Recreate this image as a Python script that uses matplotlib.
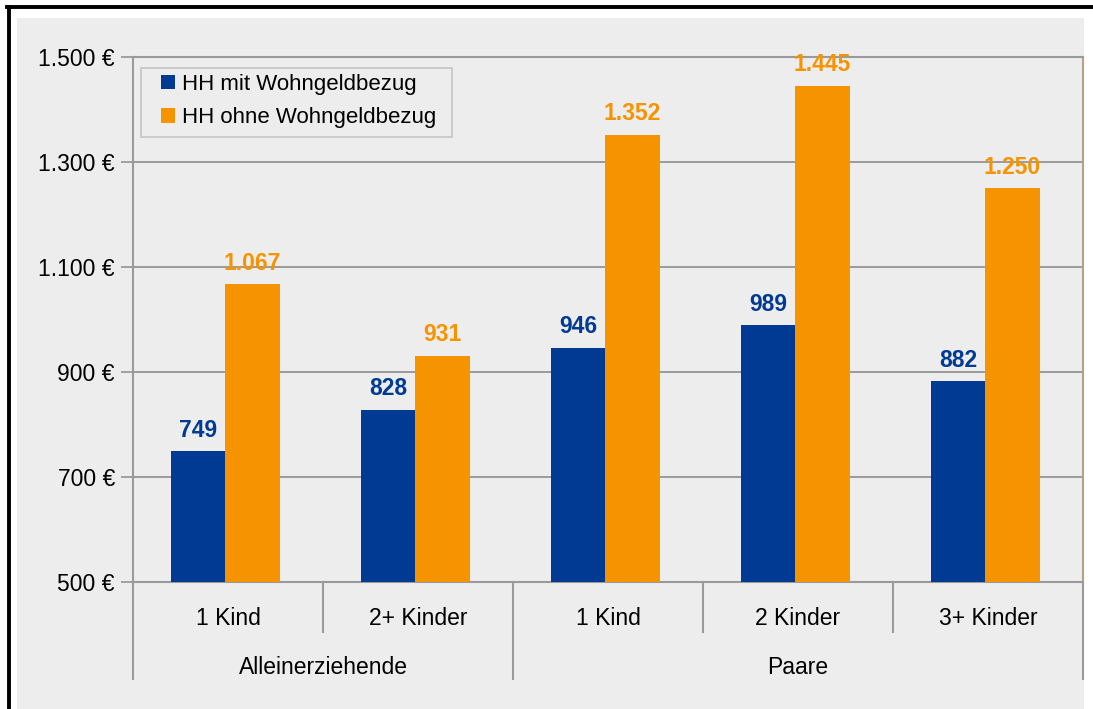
import matplotlib
matplotlib.use("Agg")
from matplotlib import pyplot as plt
from matplotlib.patches import Rectangle
from matplotlib.lines import Line2D
import matplotlib.transforms as mtransforms

plt.rcParams['font.family'] = ['Liberation Sans', 'DejaVu Sans']

# data
categories = ["1 Kind", "2+ Kinder", "1 Kind", "2 Kinder", "3+ Kinder"]
groups = ["Alleinerziehende", "Paare"]
group_sizes = [2, 3]
mit_wohngeld = [749, 828, 946, 989, 882]
ohne_wohngeld = [1067, 931, 1352, 1445, 1250]
series_names = ["HH mit Wohngeldbezug", "HH ohne Wohngeldbezug"]
y_ticks = [500, 700, 900, 1100, 1300, 1500]

blue = "#003A93"
orange = "#F59300"
bg = "#EDEDED"
grid_col = "#9A9A9A"

fig = plt.figure(figsize=(10.93, 7.09), dpi=100)
fig.patch.set_facecolor("white")

# grey panel and black frame
W, H = 1093, 709
fig.patches.append(Rectangle((17 / W, 0), (1084 - 17) / W, (H - 18) / H,
                             transform=fig.transFigure, facecolor=bg,
                             edgecolor="none", zorder=-10))
fig.lines.append(Line2D([8.5 / W, 8.5 / W], [0, 1 - 7 / H], transform=fig.transFigure,
                        color="black", linewidth=2.8))
fig.lines.append(Line2D([7 / W, 1], [1 - 7 / H, 1 - 7 / H], transform=fig.transFigure,
                        color="black", linewidth=2.8))

ax = fig.add_axes([133 / W, 127 / H, 950 / W, 525 / H])
ax.set_facecolor(bg)

x = list(range(len(categories)))
w = 0.287
off = -0.015
xb = [i + off - w / 2 for i in x]
xo = [i + off + w / 2 for i in x]
ax.bar(xb, mit_wohngeld, width=w, color=blue, label=series_names[0], zorder=3)
ax.bar(xo, ohne_wohngeld, width=w, color=orange, label=series_names[1], zorder=3)

for xi, v in zip(xb, mit_wohngeld):
    ax.annotate("{:,}".format(v).replace(",", "."), (xi, v), xytext=(0, 7),
                textcoords="offset points", ha="center", va="bottom",
                color=blue, fontsize=16.5, fontweight="bold", zorder=5)
for xi, v in zip(xo, ohne_wohngeld):
    ax.annotate("{:,}".format(v).replace(",", "."), (xi, v), xytext=(0, 7),
                textcoords="offset points", ha="center", va="bottom",
                color=orange, fontsize=16.5, fontweight="bold", zorder=5)

ax.set_xlim(-0.5, len(categories) - 0.5)
ax.set_ylim(500, 1500)
ax.set_yticks(y_ticks)
ax.set_yticklabels(["{:,} €".format(t).replace(",", ".") for t in y_ticks], fontsize=16.5)
ax.tick_params(axis="y", length=9, width=1.3, color=grid_col, pad=4)
ax.set_xticks([])
ax.yaxis.grid(True, color=grid_col, linewidth=1.4, zorder=0)
ax.set_axisbelow(True)

for side in ["top", "left", "bottom"]:
    ax.spines[side].set_color(grid_col)
    ax.spines[side].set_linewidth(1.5)
ax.spines["right"].set_color("#B8A27E")
ax.spines["right"].set_linewidth(1.5)

# hierarchical x axis
trans = mtransforms.blended_transform_factory(ax.transData, ax.transAxes)
for i, c in enumerate(categories):
    ax.text(i, -0.07, c, transform=trans, ha="center", va="center", fontsize=16.5)
pos = -0.5
bounds = [pos]
for g, n in zip(groups, group_sizes):
    ax.text(pos + n / 2, -0.162, g, transform=trans, ha="center", va="center", fontsize=16.5)
    for k in range(1, n):
        ax.plot([pos + k, pos + k], [0, -0.095], transform=trans, color=grid_col,
                linewidth=1.5, clip_on=False)
    pos += n
    bounds.append(pos)
for bnd in bounds:
    ax.plot([bnd, bnd], [0, -0.185], transform=trans, color=grid_col,
            linewidth=1.5, clip_on=False)

# legend with its own box (wider side padding than top/bottom)
ax.add_patch(Rectangle((0.0084, 0.8476), 0.3274, 0.1314, transform=ax.transAxes,
                       facecolor=bg, edgecolor="#C8C8C8", linewidth=1.3, zorder=4))
leg = ax.legend(loc="upper left", bbox_to_anchor=(0.0295, 0.968), fontsize=16,
                handlelength=0.65, handleheight=0.65, handletextpad=0.3,
                borderpad=0, borderaxespad=0, labelspacing=0.55, frameon=False)
leg.set_zorder(6)

fig.savefig("out.png", dpi=100, facecolor=fig.get_facecolor())
